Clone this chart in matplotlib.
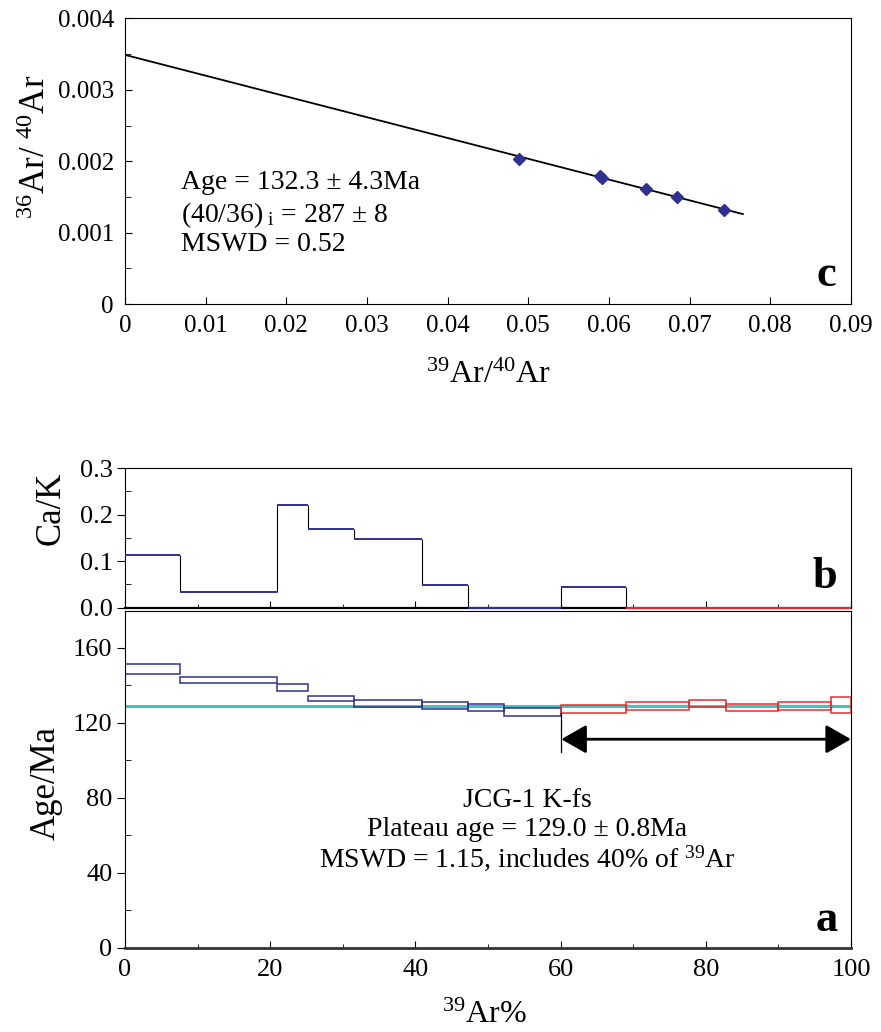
import numpy as np
import matplotlib
matplotlib.use("Agg")
import matplotlib.pyplot as plt
from matplotlib.patches import Rectangle
from matplotlib.ticker import MultipleLocator

plt.rcParams["font.family"] = "Liberation Serif"
plt.rcParams["mathtext.fontset"] = "stix"
plt.rcParams["mathtext.default"] = "regular"

NAVY = "#2e3192"
RED = "#ee2a2a"
CYAN = "#45c1c0"

# ---- isochron (panel c) ----
iso_x = [0.0488, 0.0589, 0.0591, 0.0646, 0.0684, 0.0742]
iso_y = [0.00203, 0.00179, 0.00177, 0.00161, 0.00150, 0.00132]
fit_x = [0.0, 0.0766]
fit_y = [0.00349, 0.00126]
c_xticks = [0, 0.01, 0.02, 0.03, 0.04, 0.05, 0.06, 0.07, 0.08, 0.09]
c_xticklabels = ["0", "0.01", "0.02", "0.03", "0.04", "0.05", "0.06", "0.07", "0.08", "0.09"]
c_yticks = [0, 0.001, 0.002, 0.003, 0.004]
c_yticklabels = ["0", "0.001", "0.002", "0.003", "0.004"]

# ---- step heating (panels a, b) ----
step_edges = [0, 7.6, 20.9, 25.2, 31.5, 40.9, 47.3, 52.2, 60.1, 69.0, 77.7, 82.8, 90.0, 97.2, 100]
ca_k = [0.113, 0.033, 0.220, 0.169, 0.147, 0.048, 0.0, 0.0, 0.045, 0.0, 0.0, 0.0, 0.0, 0.0]
ca_k_colors = [NAVY] * 9 + [RED] * 5
age_hi = [151.3, 144.5, 140.8, 134.3, 132.0, 130.9, 130.1, 127.7, 129.4, 130.9, 132.5, 130.1, 130.9, 134.1]
age_lo = [146.3, 141.2, 136.9, 131.6, 128.7, 127.3, 126.1, 123.9, 125.5, 127.1, 128.5, 126.6, 126.8, 125.5]
age_colors = [NAVY] * 8 + [RED] * 6
plateau_age = 129.0
plateau_start = 60.1
plateau_end = 100
arrow_age = 111.3
marker_bottom = 104.5

fig = plt.figure(figsize=(8.81, 10.32), dpi=100)
ax_c = fig.add_axes([0.1419, 0.7054, 0.824, 0.2767])
ax_b = fig.add_axes([0.1419, 0.4113, 0.824, 0.1352])
ax_a = fig.add_axes([0.1419, 0.0817, 0.824, 0.3267])

# ---- panel c ----
ax_c.plot(fit_x, fit_y, color="black", lw=1.3, zorder=2)
ax_c.plot(iso_x, iso_y, "D", color=NAVY, ms=6, zorder=3)
ax_c.set_xlim(0, 0.09)
ax_c.set_ylim(0, 0.004)
ax_c.set_xticks(c_xticks)
ax_c.set_xticklabels(c_xticklabels)
ax_c.set_yticks(c_yticks)
ax_c.set_yticklabels(c_yticklabels)
ax_c.yaxis.set_minor_locator(MultipleLocator(0.0005))
ax_c.tick_params(which="major", direction="in", length=5, labelsize=18, pad=8)
ax_c.tick_params(which="minor", direction="in", length=4)
ax_c.set_xlabel("$^{39}$Ar/$^{40}$Ar", fontsize=23)
ax_c.xaxis.set_label_coords(0.5, -0.25)
ax_c.xaxis.label.set_va("center")
ax_c.set_ylabel("$^{36}$Ar/ $^{40}$Ar", fontsize=25)
ax_c.yaxis.set_label_coords(-0.122, 0.55)
ax_c.yaxis.label.set_va("center")

ax_c.text(0.0069, 0.00170, "Age = 132.3 ± 4.3Ma", fontsize=20, ha="left", va="center")
ax_c.text(0.0069, 0.00125, "(40/36)$_{\\ i}$ = 287 ± 8", fontsize=20, ha="left", va="center")
ax_c.text(0.0069, 0.00083, "MSWD = 0.52", fontsize=20, ha="left", va="center")
ax_c.text(0.0869, 0.00040, "c", fontsize=32, fontweight="bold", ha="center", va="center")

# ---- panel b ----
ax_b.hlines(ca_k, step_edges[:-1], step_edges[1:], colors=ca_k_colors, lw=1.4, zorder=3, clip_on=False)
ax_b.vlines(step_edges[1:-1], ca_k[:-1], ca_k[1:], colors="black", lw=0.8, zorder=2)
ax_b.set_xlim(0, 100)
ax_b.set_ylim(0, 0.3)
ax_b.set_yticks([0, 0.1, 0.2, 0.3])
ax_b.set_yticklabels(["0.0", "0.1", "0.2", "0.3"])
ax_b.yaxis.set_minor_locator(MultipleLocator(0.05))
ax_b.xaxis.set_major_locator(MultipleLocator(20))
ax_b.xaxis.set_minor_locator(MultipleLocator(10))
ax_b.tick_params(axis="y", which="major", direction="out", length=6, labelsize=19, pad=3)
ax_b.tick_params(axis="y", which="minor", direction="in", length=4)
ax_b.tick_params(axis="x", which="major", direction="in", length=5, labelbottom=False)
ax_b.tick_params(axis="x", which="minor", direction="in", length=3)
ax_b.spines["bottom"].set_linewidth(1.6)
ax_b.set_ylabel("Ca/K", fontsize=25)
ax_b.yaxis.set_label_coords(-0.102, 0.71)
ax_b.yaxis.label.set_va("center")
ax_b.text(96.4, 0.065, "b", fontsize=32, fontweight="bold", ha="center", va="center")

# ---- panel a ----
ax_a.axhline(plateau_age, color=CYAN, lw=2.2, zorder=1)
for i in range(len(age_hi)):
    ax_a.add_patch(Rectangle((step_edges[i], age_lo[i]), step_edges[i + 1] - step_edges[i],
                             age_hi[i] - age_lo[i], fill=False, edgecolor=age_colors[i],
                             lw=1.1, zorder=2))
ax_a.plot([plateau_start, plateau_start], [age_lo[8], marker_bottom], color="black", lw=0.9)
ax_a.annotate("", xy=(plateau_end, arrow_age), xytext=(plateau_start, arrow_age),
              arrowprops=dict(arrowstyle="<|-|>,head_length=0.7,head_width=0.4",
                              color="black", lw=2, mutation_scale=22,
                              shrinkA=0, shrinkB=0),
              annotation_clip=False)
ax_a.set_xlim(0, 100)
ax_a.set_ylim(0, 180)
ax_a.set_yticks([0, 40, 80, 120, 160])
ax_a.yaxis.set_minor_locator(MultipleLocator(20))
ax_a.xaxis.set_major_locator(MultipleLocator(20))
ax_a.xaxis.set_minor_locator(MultipleLocator(10))
ax_a.tick_params(axis="y", which="major", direction="out", length=6, labelsize=19, pad=3)
ax_a.tick_params(axis="y", which="minor", direction="in", length=4)
ax_a.tick_params(axis="x", which="major", direction="in", length=5, labelsize=19, pad=8)
ax_a.tick_params(axis="x", which="minor", direction="in", length=3)
ax_a.spines["bottom"].set_linewidth(2)
ax_a.spines["bottom"].set_color("#333333")
ax_a.set_ylabel("Age/Ma", fontsize=25)
ax_a.yaxis.set_label_coords(-0.108, 0.488)
ax_a.yaxis.label.set_va("center")
ax_a.set_xlabel("$^{39}$Ar%", fontsize=23)
ax_a.xaxis.set_label_coords(0.495, -0.2)
ax_a.xaxis.label.set_va("center")

ax_a.text(55.4, 78.8, "JCG-1 K-fs", fontsize=20, ha="center", va="center")
ax_a.text(55.4, 63.3, "Plateau age = 129.0 ± 0.8Ma", fontsize=20, ha="center", va="center")
ax_a.text(55.4, 47.8, "MSWD = 1.15, includes 40% of $^{39}$Ar", fontsize=20, ha="center", va="center")
ax_a.text(96.7, 14.8, "a", fontsize=32, fontweight="bold", ha="center", va="center")

fig.savefig("out.png", dpi=100)
